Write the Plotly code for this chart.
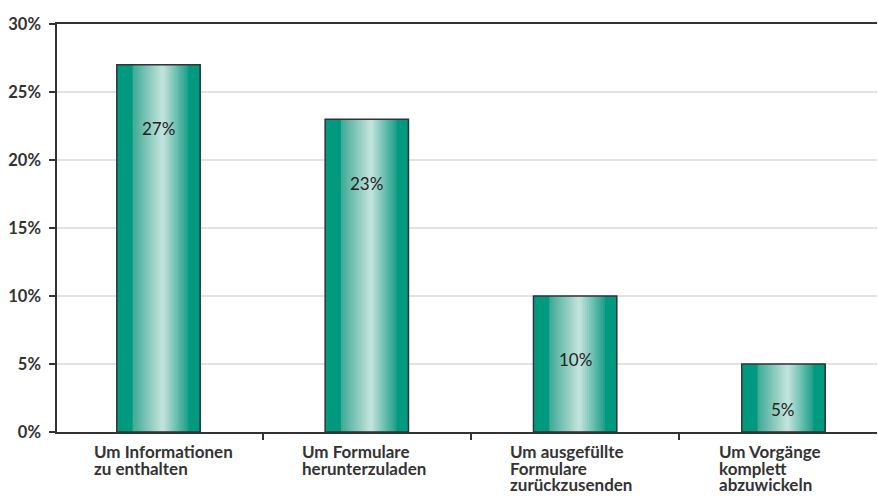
import plotly.graph_objects as go

categories = [["Um Informationen", "zu enthalten"],
              ["Um Formulare", "herunterzuladen"],
              ["Um ausgefüllte", "Formulare", "zurückzusenden"],
              ["Um Vorgänge", "komplett", "abzuwickeln"]]
values = [27, 23, 10, 5]
value_labels = ["27%", "23%", "10%", "5%"]
ytick_vals = [0, 5, 10, 15, 20, 25, 30]
ytick_text = ["0%", "5%", "10%", "15%", "20%", "25%", "30%"]

xkeys = list(range(len(categories)))
FONT = "Lato"
BAR_W = 0.40


def hex2rgb(h):
    h = h.lstrip("#")
    return [int(h[i:i + 2], 16) for i in (0, 2, 4)]


def mix(a, b, t):
    ca, cb = hex2rgb(a), hex2rgb(b)
    return "rgb(%d,%d,%d)" % tuple(round(ca[i] + (cb[i] - ca[i]) * t) for i in range(3))


DARK, START, LIGHT, END = "#009a80", "#3aa893", "#c6e4dd", "#1a9f88"


def shade(t):
    if t < 0.18 or t > 0.86:
        return mix(DARK, DARK, 0)
    if t < 0.55:
        return mix(START, LIGHT, (t - 0.18) / 0.37)
    return mix(LIGHT, END, (t - 0.55) / 0.31)


N = 42
fig = go.Figure()
for s in range(N):
    t0 = s / N
    fig.add_trace(go.Bar(x=xkeys, y=values, width=BAR_W * (1 - t0), offset=-BAR_W / 2 + t0 * BAR_W,
                         marker=dict(color=shade(t0 + 0.5 / N), line=dict(width=0)),
                         hoverinfo="skip", showlegend=False))
fig.add_trace(go.Bar(x=xkeys, y=values, width=BAR_W,
                     marker=dict(color="rgba(0,0,0,0)", line=dict(color="#333333", width=1.5)),
                     showlegend=False))

for i, (v, t) in enumerate(zip(values, value_labels)):
    fig.add_annotation(x=i, y=max(v - 4.7, v / 3), text=t, showarrow=False,
                       font=dict(family=FONT, size=17, color="#222222"), xanchor="center", yanchor="middle")
for i, lines in enumerate(categories):
    for k, line in enumerate(lines):
        fig.add_annotation(x=i - 0.32, y=0, yref="y", text="<b>" + line + "</b>", showarrow=False,
                           align="left", xanchor="left", yanchor="top", yshift=-7 - 16.5 * k,
                           font=dict(family=FONT, size=17, color="#333333"))

fig.update_layout(
    width=878, height=496,
    margin=dict(l=57, r=1, t=24, b=64, autoexpand=False),
    barmode="overlay",
    paper_bgcolor="white", plot_bgcolor="white",
    xaxis=dict(type="linear", range=[-0.487, 3.449], showgrid=False, zeroline=False, automargin=False,
               showline=True, linecolor="#333333", linewidth=1.5, mirror=True,
               tickmode="array", tickvals=[-0.5, 0.5, 1.5, 2.5], ticks="outside",
               ticklen=6, tickcolor="#333333", tickwidth=1.5, showticklabels=False),
    yaxis=dict(range=[0, 30], tickmode="array", tickvals=ytick_vals, ticktext=ytick_text,
               automargin=False, ticklabelstandoff=5,
               showgrid=True, gridcolor="#e2e2e2", gridwidth=1.5, zeroline=False,
               showline=True, linecolor="#333333", linewidth=1.5,
               ticks="outside", ticklen=6, tickcolor="#333333", tickwidth=1.5,
               tickfont=dict(family=FONT, size=16.5, color="#333333", weight="bold")),
)
fig.write_html("out.html", config={"displayModeBar": False},
               post_script="document.body.style.margin='0';document.body.style.overflow='hidden';")
